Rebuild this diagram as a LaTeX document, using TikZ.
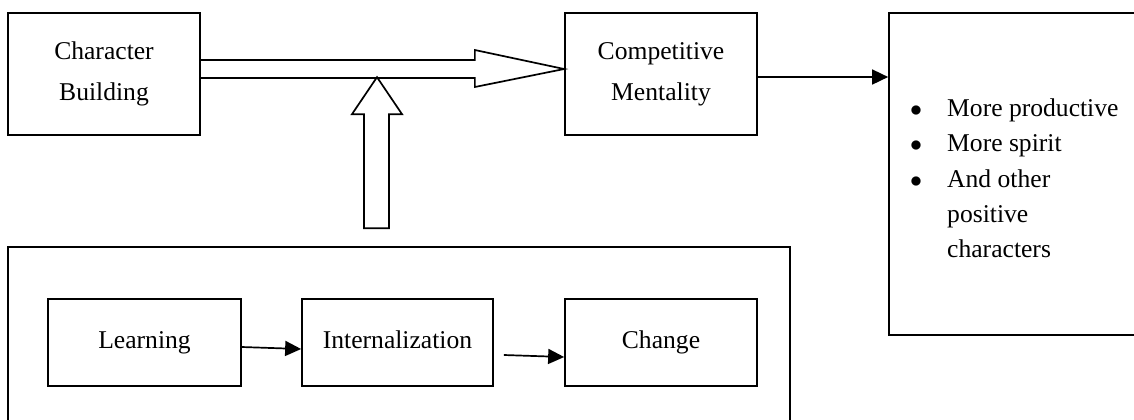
\documentclass[tikz,border=0pt]{standalone}
\usepackage{fontspec}
\setmainfont{Liberation Serif}
\usetikzlibrary{calc,arrows.meta}

\begin{document}
\begin{tikzpicture}[x=0.5pt, y=-0.5pt, line width=0.85pt,
		box/.style={draw, inner sep=0pt, align=center, font=\fontsize{12.8}{20.5}\selectfont},
		small box/.style={box, minimum height=43.5pt, text height=8.8pt, text depth=2.8pt},
		>={Triangle[length=8pt,width=7.5pt]}]
		\useasboundingbox (0,0) rectangle (1134,419);
		\clip (0,0) rectangle (1134,419);
		
		% top row
		\node[box, minimum width=96pt, minimum height=61pt] (cb) at (104,74) {Character\\Building};
		\node[box, minimum width=96pt, minimum height=61pt] (cm) at (661,74) {Competitive\\Mentality};
		\node[box, minimum width=135pt, minimum height=161pt] (rb) at (1024,174) {};
		\node[anchor=north west, inner sep=0pt, font=\fontsize{12.8}{17.6}\selectfont] (lst)
		at ($(rb.north west)+(21,79)$)
		{\begin{tabular}{@{}l@{\hspace{12.6pt}}l@{}}
				$\bullet$ & More productive\\
				$\bullet$ & More spirit\\
				$\bullet$ & And other\\
				& positive\\
				& characters
		\end{tabular}};
		
		% bottom frame
		\node[box, minimum width=391pt, minimum height=96.5pt] (bb) at (399,343.5) {};
		\node[small box, minimum width=96.5pt] (lrn) at (144.5,342.5) {Learning};
		\node[small box, minimum width=95.5pt] (int) at (397.5,342.5) {Internalization};
		\node[small box, minimum width=96pt] (chg) at (661,342.5) {Change};
		
		% hollow arrows
		\draw ($(cb.east)+(0,-14)$) -- ++(274,0) -- ++(0,-10)
		-- ($(cm.west)+(0,-5)$)
		-- ($(cb.east)+(274,13)$) -- ++(0,-9) -- ($(cb.east)+(0,4)$);
		\draw ($(bb.north)+(-35,-18)$) -- ++(0,-114) -- ++(-12,0)
		-- ($(bb.north)+(-22,-169)$)
		-- ++(25,37) -- ++(-13,0) -- ++(0,114) -- cycle;
		
		% plain arrows
		\draw[->] ($(cm.east)+(0,3)$) -- ($(rb.west)+(0,-97)$);
		\draw[->] ($(lrn.east)+(0,4.5)$) -- ($(int.west)+(0,6.5)$);
		\draw[->] ($(int.east)+(10,12.5)$) -- ($(chg.west)+(0,14.5)$);
		
	\end{tikzpicture}
\end{document}
